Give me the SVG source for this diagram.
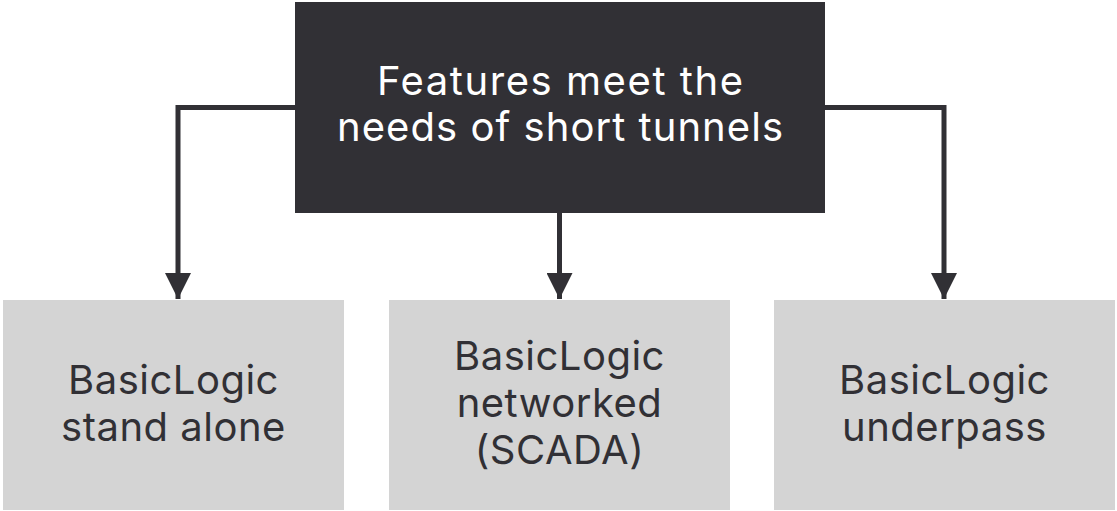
<svg xmlns="http://www.w3.org/2000/svg" width="1117" height="511" viewBox="0 0 1117 511">
  <style>
    .dark { fill: #313035; }
    .light { fill: #d4d4d4; }
    .t { font-family: Inter, "Liberation Sans", sans-serif; font-size: 40px; text-anchor: middle; letter-spacing: 0.5px; }
    .tw { fill: #ffffff; letter-spacing: 0; }
    .tb { fill: #313035; }
    .conn { fill: none; stroke: #313035; stroke-width: 5; }
  </style>
  <defs>
    <marker id="arrow" markerUnits="userSpaceOnUse" markerWidth="26" markerHeight="26" refX="26" refY="13" orient="auto">
      <path d="M0,0 L26,13 L0,26 Z" fill="#313035"/>
    </marker>
  </defs>
  <rect width="1117" height="511" fill="#ffffff"/>
  <g id="connectors">
    <path class="conn" d="M296,107.5 H178 V299" marker-end="url(#arrow)"/>
    <path class="conn" d="M559.5,212 V299" marker-end="url(#arrow)"/>
    <path class="conn" d="M824,107.5 H944 V299" marker-end="url(#arrow)"/>
  </g>
  <g id="root">
    <rect class="dark" x="295" y="2" width="530" height="211"/>
    <text class="t tw" x="560" y="95" textLength="366" lengthAdjust="spacing">Features meet the</text>
    <text class="t tw" x="560" y="141" textLength="446" lengthAdjust="spacing">needs of short tunnels</text>
  </g>
  <g id="standalone">
    <rect class="light" x="3" y="300" width="341" height="210"/>
    <text class="t tb" x="173.5" y="394">BasicLogic</text>
    <text class="t tb" x="173.5" y="441">stand alone</text>
  </g>
  <g id="networked">
    <rect class="light" x="389" y="300" width="341" height="210"/>
    <text class="t tb" x="559.5" y="370">BasicLogic</text>
    <text class="t tb" x="559.5" y="417">networked</text>
    <text class="t tb" x="559.5" y="464">(SCADA)</text>
  </g>
  <g id="underpass">
    <rect class="light" x="774" y="300" width="341" height="210"/>
    <text class="t tb" x="944.5" y="394">BasicLogic</text>
    <text class="t tb" x="944.5" y="441">underpass</text>
  </g>
</svg>
